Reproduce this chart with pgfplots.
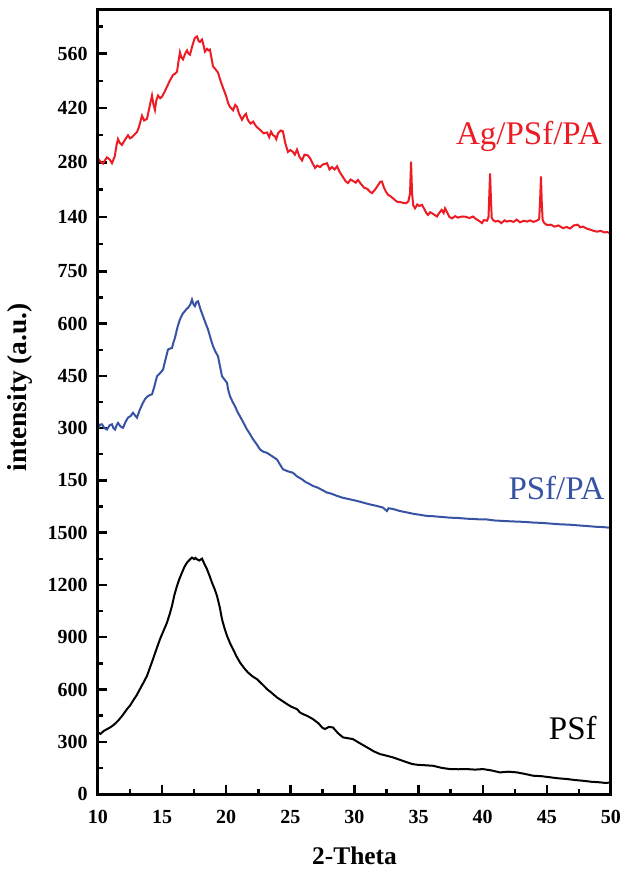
\documentclass[border=0pt]{standalone}
\usepackage{pgfplots}
\pgfplotsset{compat=1.18}
\usepackage{fontspec}
\setmainfont{Liberation Serif}
\definecolor{cred}{RGB}{237,28,36}
\definecolor{cblue}{RGB}{56,83,164}
\pgfplotsset{
  panel/.style={
    scale only axis, width=256.5pt, height=130.67pt,
    xmin=10, xmax=50,
    axis line style={draw=none},
    tick style={black, line width=1.2pt},
    major tick length=4.5pt, minor tick length=2.5pt,
    tick align=inside,
    ytick pos=left,
    tick label style={font=\fontsize{10}{12}\selectfont\bfseries},
    /pgf/number format/assume math mode=true,
    /pgf/number format/set thousands separator={},
    yticklabel style={xshift=-1.7pt},
    xticklabel style={yshift=-4.7pt},
  },
  curve/.style={line width=1pt, no marks}
}
\begin{document}
\begin{tikzpicture}
\begin{axis}[panel, name=bot,
  ymin=0, ymax=1500, ytick={0,300,...,1500}, minor y tick num=1,
  xtick={10,15,...,50}, minor x tick num=1, xtick pos=bottom,
  xlabel={2-Theta},
  every axis x label/.style={at={(rel axis cs:0.5,0)}, anchor=base, yshift=-35pt, font=\fontsize{12.7}{14}\selectfont\bfseries},
]
\addplot[curve, black] coordinates {
(10.00,354)(10.20,345)(10.45,362)(10.70,372)(10.94,382)(11.20,395)(11.56,420)(11.90,450)(12.26,487)(12.50,508)
(12.73,535)(13.00,565)(13.27,602)(13.55,640)(13.82,678)(14.05,725)(14.29,774)(14.55,830)(14.83,888)(15.10,935)
(15.38,984)(15.60,1035)(15.77,1080)(15.95,1140)(16.16,1194)(16.35,1235)(16.55,1271)(16.75,1305)(16.94,1328)(17.15,1345)
(17.33,1357)(17.50,1348)(17.60,1355)(17.72,1347)(17.90,1340)(18.11,1351)(18.30,1320)(18.50,1290)(18.70,1252)(18.89,1213)
(19.10,1175)(19.28,1137)(19.50,1070)(19.67,1003)(19.85,955)(20.06,908)(20.30,865)(20.53,831)(20.80,790)(21.07,755)
(21.40,722)(21.70,697)(22.05,675)(22.40,659)(22.80,630)(23.18,602)(23.55,580)(23.96,554)(24.35,535)(24.74,516)
(25.10,500)(25.52,487)(25.75,468)(26.00,458)(26.30,449)(26.76,430)(27.20,405)(27.50,380)(27.70,373)(28.00,385)
(28.32,382)(28.70,350)(29.10,325)(29.50,320)(29.88,315)(30.40,292)(30.97,268)(31.50,245)(31.99,229)(32.50,220)
(33.00,210)(33.55,196)(34.09,182)(34.50,172)(34.87,168)(35.50,165)(36.12,162)(36.80,150)(37.45,143)(38.10,142)
(38.77,143)(39.40,140)(40.02,143)(40.70,135)(41.34,124)(42.00,128)(42.67,124)(43.30,115)(43.92,105)(44.60,102)
(45.24,96)(45.90,90)(46.57,86)(47.20,80)(47.82,76)(48.50,70)(49.14,67)(49.50,64)(49.92,65)
};
\node[anchor=base east, font=\fontsize{16.5}{18}\selectfont, text=black, inner sep=0pt] at (axis cs:48.91,315) {PSf};
\end{axis}
\begin{axis}[panel, name=mid, at={(bot.north west)}, anchor=south west,
  ymin=0, ymax=750, ytick={150,300,...,750}, minor ytick={75,225,...,675},
  xtick=\empty,
  ylabel={intensity (a.u.)},
  every axis y label/.style={at={(rel axis cs:-0.152,0.556)}, rotate=90, anchor=center, font=\fontsize{13.7}{15}\selectfont\bfseries},
]
\addplot[curve, cblue] coordinates {
(10.00,296)(10.15,310)(10.31,311)(10.50,300)(10.70,296)(10.90,308)(11.09,311)(11.20,300)(11.33,296)(11.45,308)
(11.56,315)(11.75,305)(11.95,301)(12.15,318)(12.34,330)(12.55,335)(12.73,344)(12.90,336)(13.04,330)(13.25,352)
(13.51,373)(13.70,385)(13.90,392)(14.05,395)(14.21,397)(14.40,420)(14.60,449)(14.85,458)(15.07,468)(15.25,495)
(15.46,526)(15.60,528)(15.77,530)(15.90,548)(16.00,559)(16.20,590)(16.39,612)(16.60,628)(16.78,636)(16.90,642)
(17.02,645)(17.20,655)(17.33,669)(17.45,655)(17.56,650)(17.68,662)(17.80,664)(18.00,640)(18.19,621)(18.40,600)
(18.58,583)(18.80,555)(18.97,535)(19.15,520)(19.36,506)(19.50,480)(19.67,449)(19.85,440)(20.06,430)(20.15,410)
(20.29,392)(20.50,375)(20.68,363)(20.90,345)(21.07,334)(21.35,315)(21.62,296)(21.85,283)(22.09,268)(22.35,255)
(22.63,239)(22.90,232)(23.18,229)(23.55,220)(23.96,210)(24.20,195)(24.42,182)(24.80,176)(25.20,172)(25.50,162)
(25.91,153)(26.20,145)(26.53,139)(26.76,134)(27.15,129)(27.50,122)(27.86,115)(28.20,112)(28.60,106)(29.10,100)
(29.60,96)(30.20,91)(30.70,86)(31.21,81)(31.70,77)(32.22,72)(32.40,66)(32.53,62)(32.65,70)(33.00,68)
(33.55,62)(34.10,58)(34.60,54)(35.15,51)(35.65,48)(36.20,47)(36.80,45)(37.45,43)(38.10,42)(38.80,40)
(39.40,39)(39.79,38)(40.30,38)(40.90,35)(41.89,33)(42.50,32)(43.20,31)(43.92,29)(44.60,28)(45.30,26)
(46.02,24)(46.70,23)(47.40,21)(48.13,19)(48.80,17)(49.40,16)(49.92,14)
};
\node[anchor=base east, font=\fontsize{16.5}{18}\selectfont, text=cblue, inner sep=0pt] at (axis cs:49.53,95) {PSf/PA};
\end{axis}
\begin{axis}[panel, name=top, at={(mid.north west)}, anchor=south west,
  ymin=0, ymax=672, ytick={140,280,420,560}, minor ytick={70,210,350,490,630},
  xtick=\empty,
]
\addplot[curve, cred] coordinates {
(10.00,290)(10.20,282)(10.39,277)(10.55,286)(10.70,293)(10.90,288)(11.09,278)(11.30,295)(11.45,325)(11.56,340)
(11.70,330)(11.87,325)(12.10,338)(12.34,350)(12.50,342)(12.65,345)(12.85,352)(13.04,358)(13.20,372)(13.43,400)
(13.60,388)(13.82,392)(14.00,420)(14.21,452)(14.32,430)(14.44,415)(14.55,440)(14.68,452)(14.85,445)(14.99,449)
(15.20,462)(15.38,475)(15.60,490)(15.85,505)(16.00,508)(16.16,513)(16.30,545)(16.39,563)(16.50,550)(16.63,545)
(16.80,560)(16.94,568)(17.05,560)(17.17,557)(17.40,585)(17.55,600)(17.72,604)(17.85,592)(17.95,590)(18.11,596)
(18.20,585)(18.34,565)(18.50,572)(18.62,568)(18.73,570)(18.85,548)(18.97,527)(19.15,520)(19.36,511)(19.55,490)
(19.75,472)(20.00,450)(20.15,432)(20.29,423)(20.53,414)(20.70,428)(20.84,423)(21.00,405)(21.23,390)(21.40,400)
(21.54,405)(21.65,392)(21.77,385)(21.90,380)(22.09,385)(22.35,372)(22.63,364)(22.90,355)(23.18,357)(23.35,345)
(23.49,359)(23.65,350)(23.80,347)(23.90,340)(24.04,355)(24.25,362)(24.42,360)(24.60,330)(24.81,307)(25.00,312)
(25.20,307)(25.35,300)(25.52,313)(25.70,295)(25.91,285)(26.10,300)(26.37,298)(26.55,290)(26.70,280)(26.92,266)
(27.10,272)(27.31,268)(27.55,275)(27.86,278)(28.05,262)(28.25,268)(28.45,262)(28.64,270)(28.85,255)(29.05,245)
(29.30,232)(29.49,227)(29.70,236)(29.90,232)(30.10,228)(30.27,235)(30.50,225)(30.75,215)(31.00,212)(31.20,205)
(31.36,201)(31.60,210)(31.85,222)(32.00,230)(32.14,231)(32.30,215)(32.45,205)(32.61,197)(32.85,192)(33.10,185)
(33.31,179)(33.55,178)(33.80,176)(34.02,175)(34.20,180)(34.33,200)(34.41,282)(34.49,200)(34.58,170)(34.72,162)
(34.90,172)(35.05,168)(35.26,171)(35.45,160)(35.60,150)(35.73,145)(35.90,152)(36.10,148)(36.25,145)(36.43,141)
(36.60,150)(36.80,158)(36.95,150)(37.06,162)(37.25,150)(37.40,140)(37.60,136)(37.85,142)(38.05,138)(38.25,140)
(38.46,141)(38.70,140)(38.95,137)(39.24,141)(39.45,135)(39.70,130)(39.94,124)(40.10,132)(40.33,130)(40.45,140)
(40.50,185)(40.57,252)(40.64,185)(40.70,138)(40.80,132)(41.00,128)(41.20,130)(41.45,124)(41.70,131)(41.89,128)
(42.15,130)(42.40,127)(42.65,133)(42.90,126)(43.20,130)(43.45,128)(43.70,131)(43.95,127)(44.20,130)(44.40,134)
(44.47,180)(44.54,244)(44.60,180)(44.67,132)(44.80,124)(45.01,119)(45.30,120)(45.60,115)(45.90,118)(46.26,111)
(46.55,114)(46.80,110)(47.10,118)(47.40,120)(47.60,113)(47.82,115)(48.10,110)(48.40,107)(48.65,104)(48.91,102)
(49.20,104)(49.50,100)(49.70,101)(49.92,98)
};
\node[anchor=base east, font=\fontsize{16.5}{18}\selectfont, text=cred, inner sep=0pt] at (axis cs:49.30,325) {Ag/PSf/PA};
\end{axis}
\draw[line width=1.5pt] (top.north west) rectangle (bot.south east);
\pgfresetboundingbox
\path ([shift={(-49pt,-39.5pt)}]bot.south west) rectangle ([shift={(6pt,5pt)}]top.north east);
\end{tikzpicture}
\end{document}
